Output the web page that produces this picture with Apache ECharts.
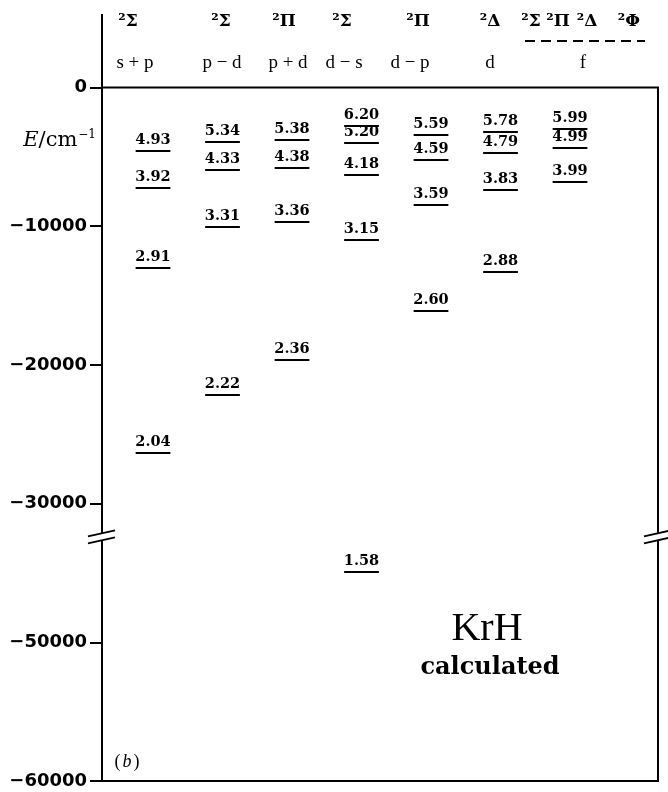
<!DOCTYPE html>
<html><head><meta charset="utf-8">
<script src="https://cdn.jsdelivr.net/npm/echarts@6/dist/echarts.min.js"></script>
<style>html,body{margin:0;padding:0;background:#fff}#c{width:668px;height:792px}</style>
</head><body><div id="c"></div>
<script>
// ---- data ----
const configs = ['s + p', 'p − d', 'p + d', 'd − s', 'd − p', 'd', 'f'];
const states = ['²Σ', '²Σ', '²Π', '²Σ', '²Π', '²Δ'];
const fStates = ['²Σ', '²Π', '²Δ', '²Φ'];
const nStar = [
  ['4.93', '3.92', '2.91', '2.04'],
  ['5.34', '4.33', '3.31', '2.22'],
  ['5.38', '4.38', '3.36', '2.36'],
  ['6.20', '5.20', '4.18', '3.15', '1.58'],
  ['5.59', '4.59', '3.59', '2.60'],
  ['5.78', '4.79', '3.83', '2.88'],
  ['5.99', '4.99', '3.99']
];
const energy = [
  [-4580, -7250, -13010, -26350],
  [-3930, -5950, -10060, -22170],
  [-3790, -5800, -9700, -19650],
  [-2780, -4000, -6310, -11000, -44930],
  [-3430, -5230, -8470, -16110],
  [-3210, -4720, -7390, -13300],
  [-2990, -4360, -6810]
];
const yTickLabels = ['0', '−10000', '−20000', '−30000', '−50000', '−60000'];

// broken axis: values below the break are drawn shifted up by 10000
const BREAK_THRESHOLD = -35000, BREAK_SHIFT = 10000, BREAK_DISPLAY = -32400;
const toDisplay = e => e < BREAK_THRESHOLD ? e + BREAK_SHIFT : e;

const levelData = [], levelLabels = [];
energy.forEach((col, i) => col.forEach((e, j) => {
  levelData.push([i, toDisplay(e)]);
  levelLabels.push(nStar[i][j]);
}));

const chart = echarts.init(document.getElementById('c'), null, {renderer: 'canvas'});
const option = {
  backgroundColor: '#fff',
  animation: false,
  grid: {left: 102, right: 10, top: 87.5, bottom: 11, show: true, borderColor: '#000', borderWidth: 2, containLabel: false},
  xAxis: {type: 'value', min: -0.734, max: 7.266, show: false},
  yAxis: {
    type: 'value', min: -50000, max: 0, interval: 10000,
    axisLine: {show: true, onZero: false, lineStyle: {color: '#000', width: 2}},
    axisTick: {show: true, length: 12, lineStyle: {color: '#000', width: 2}},
    splitLine: {show: false},
    axisLabel: {
      color: '#000', fontFamily: 'DejaVu Sans', fontWeight: 'bold', fontSize: 18, margin: 15,
      formatter: v => yTickLabels[Math.round(-v / 10000)]
    }
  },
  series: [{
    type: 'custom',
    data: levelData,
    encode: {x: 0, y: 1},
    clip: false,
    renderItem: (params, api) => {
      const c = api.coord([api.value(0), api.value(1)]);
      const w = api.size([0.5, 0])[0];
      return {type: 'group', children: [
        {type: 'line', shape: {x1: c[0] - w / 2, y1: c[1], x2: c[0] + w / 2, y2: c[1]},
         style: {stroke: '#000', lineWidth: 2}},
        {type: 'text', x: c[0], y: c[1] - 3,
         style: {text: levelLabels[params.dataIndex], textAlign: 'center', textVerticalAlign: 'bottom',
                 font: 'bold 14.5px "DejaVu Serif"', fill: '#000'}}
      ]};
    }
  }]
};
chart.setOption(option);

// ---- decorations ----
const yTop = chart.convertToPixel({yAxisIndex: 0}, 0);
const yBr = chart.convertToPixel({yAxisIndex: 0}, BREAK_DISPLAY);
const xL = chart.convertToPixel({xAxisIndex: 0}, -0.734);
const xR = chart.convertToPixel({xAxisIndex: 0}, 7.266);

function breakMark(x) {
  return [
    {type: 'rect', shape: {x: x - 3, y: yBr - 3.5, width: 6, height: 7}, style: {fill: '#fff'}, z: 10},
    {type: 'line', shape: {x1: x - 14, y1: yBr - 0.5, x2: x + 13, y2: yBr - 6.5}, style: {stroke: '#000', lineWidth: 2}, z: 11},
    {type: 'line', shape: {x1: x - 14, y1: yBr + 6.5, x2: x + 13, y2: yBr + 0.5}, style: {stroke: '#000', lineWidth: 2}, z: 11}
  ];
}
const stateX = [128, 221, 284, 342, 418, 490];
const fStateX = [531, 558, 587, 629];
const cfgX = [135, 222, 288, 344, 410, 490, 583];
const g = [];
g.push({type: 'line', shape: {x1: xL, y1: 14, x2: xL, y2: yTop}, style: {stroke: '#000', lineWidth: 2}});
g.push(...breakMark(xL), ...breakMark(xR));
states.forEach((s, i) => g.push({type: 'text', x: stateX[i], y: 22,
  style: {text: s, textAlign: 'center', textVerticalAlign: 'middle', font: 'bold 17px "DejaVu Serif"', fill: '#000'}}));
fStates.forEach((s, i) => g.push({type: 'text', x: fStateX[i], y: 22,
  style: {text: s, textAlign: 'center', textVerticalAlign: 'middle', font: 'bold 17px "DejaVu Serif"', fill: '#000'}}));
g.push({type: 'line', shape: {x1: 525, y1: 41, x2: 645, y2: 41}, style: {stroke: '#000', lineWidth: 2, lineDash: [10, 6]}});
configs.forEach((s, i) => g.push({type: 'text', x: cfgX[i], y: 63,
  style: {text: s, textAlign: 'center', textVerticalAlign: 'middle', font: '19px "Liberation Serif"', fill: '#000'}}));
g.push({type: 'text', x: 96, y: 141, style: {
  text: '{i|E}{n|/cm}{s|−1}', textAlign: 'right', textVerticalAlign: 'middle',
  rich: {
    i: {fontFamily: 'DejaVu Serif', fontStyle: 'italic', fontSize: 21, fill: '#000'},
    n: {fontFamily: 'DejaVu Serif', fontSize: 21, fill: '#000'},
    s: {fontFamily: 'DejaVu Serif', fontSize: 12, fill: '#000', padding: [0, 0, 12, 1]}
  }}});
g.push({type: 'text', x: 127, y: 762, style: {
  text: '{p|(}{b|b}{p|)}', textAlign: 'center', textVerticalAlign: 'middle',
  rich: {p: {fontFamily: 'Liberation Serif', fontSize: 18, fill: '#000', padding: [0, 2, 0, 2]},
         b: {fontFamily: 'Liberation Serif', fontStyle: 'italic', fontSize: 18, fill: '#000'}}}});
g.push({type: 'text', x: 487, y: 629, style: {text: 'KrH', textAlign: 'center', textVerticalAlign: 'middle',
  font: '40px "Liberation Serif"', fill: '#000'}});
g.push({type: 'text', x: 490, y: 668, style: {text: 'calculated', textAlign: 'center', textVerticalAlign: 'middle',
  font: 'bold 24px "DejaVu Serif"', fill: '#000'}});
chart.setOption({graphic: {elements: g}});
</script></body></html>
